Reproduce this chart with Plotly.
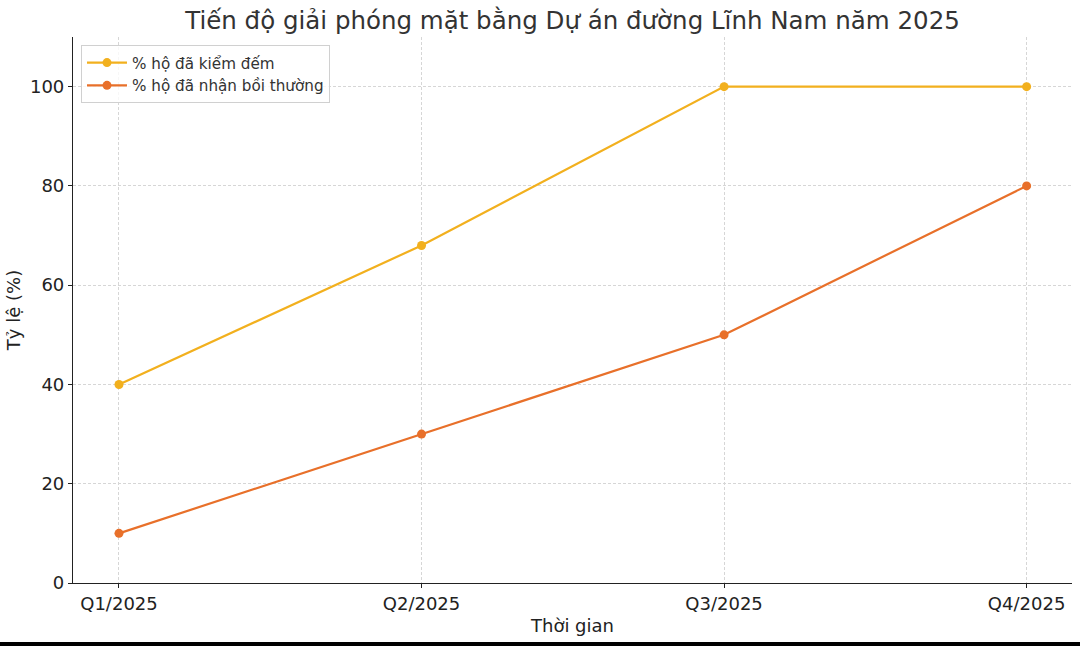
import plotly.graph_objects as go

quarters = ["Q1/2025", "Q2/2025", "Q3/2025", "Q4/2025"]
kiem_dem = [40, 68, 100, 100]
boi_thuong = [10, 30, 50, 80]

font = "DejaVu Sans"

fig = go.Figure()
fig.add_trace(go.Scatter(x=quarters, y=kiem_dem, mode="lines+markers",
                         name="% hộ đã kiểm đếm",
                         line=dict(color="#f2b01e", width=2.2),
                         marker=dict(size=9, color="#f2b01e")))
fig.add_trace(go.Scatter(x=quarters, y=boi_thuong, mode="lines+markers",
                         name="% hộ đã nhận bồi thường",
                         line=dict(color="#e8702a", width=2.2),
                         marker=dict(size=9, color="#e8702a")))

fig.update_layout(
    width=1080, height=646,
    paper_bgcolor="white", plot_bgcolor="white",
    margin=dict(l=73, r=8, t=37, b=63),
    font=dict(family=font, size=18, color="#222"),
    title=dict(text="Tiến độ giải phóng mặt bằng Dự án đường Lĩnh Nam năm 2025",
               x=0.5, xref="paper", xanchor="center", y=0.968, yanchor="middle",
               font=dict(size=24.5, color="#333")),
    legend=dict(x=0.008, y=0.985, xanchor="left", yanchor="top",
                bgcolor="rgba(255,255,255,0.8)", bordercolor="#d0d0d0", borderwidth=1,
                itemwidth=40, font=dict(size=15.2, color="#333")),
    showlegend=True,
)
fig.update_xaxes(
    range=[-0.152, 3.15], showline=True, linecolor="#222", linewidth=1.2,
    ticks="outside", ticklen=4, tickcolor="#222",
    showgrid=True, gridcolor="#d6d6d6", griddash="3px,2px", gridwidth=0.8,
    title=dict(text="Thời gian", font=dict(size=18), standoff=6),
    zeroline=False,
)
fig.update_yaxes(
    range=[0, 110], showline=True, linecolor="#222", linewidth=1.2,
    ticks="outside", ticklen=4, tickcolor="#222",
    tickvals=[0, 20, 40, 60, 80, 100],
    showgrid=True, gridcolor="#d6d6d6", griddash="3px,2px", gridwidth=0.8,
    title=dict(text="Tỷ lệ (%)", font=dict(size=18), standoff=4),
    zeroline=False,
)

# black strip at bottom edge
fig.add_shape(type="rect", xref="paper", yref="paper", x0=-0.2, x1=1.2,
              y0=-0.25, y1=-0.108, fillcolor="black", line_width=0, layer="above")

fig.write_html("out.html", config={"displayModeBar": False},
               post_script="document.body.style.margin='0';")
